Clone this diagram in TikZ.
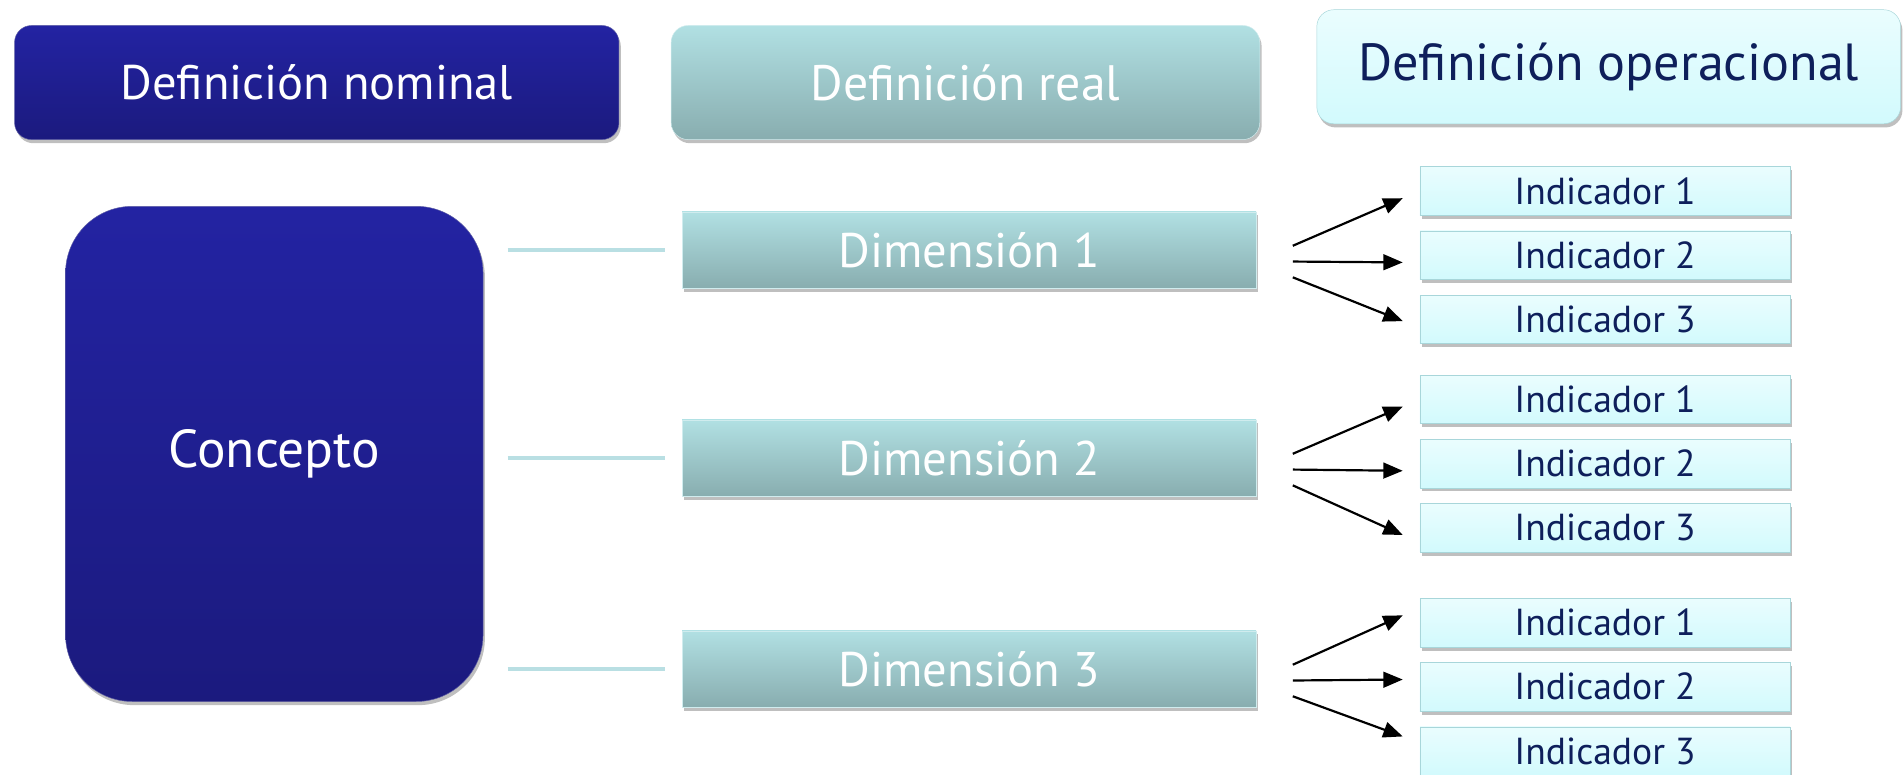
\documentclass[tikz,border=0pt]{standalone}
\usepackage{fontspec}
\setmainfont{PT Sans}
\usetikzlibrary{arrows.meta, positioning, shadows}
\definecolor{navytop}{HTML}{2323A2}
\definecolor{navybot}{HTML}{1B1A7E}
\definecolor{tealtop}{HTML}{B1E0E3}
\definecolor{tealbot}{HTML}{88ADAF}
\definecolor{icetop}{HTML}{EAFDFE}
\definecolor{icebot}{HTML}{D2FAFD}
\definecolor{iceline}{HTML}{A8D6DA}
\definecolor{inktext}{HTML}{0E1F5B}
\definecolor{linkline}{HTML}{B9DFE3}

\begin{document}
\begin{tikzpicture}[
    x=1pt, y=-1pt,
    node distance=12.5pt,
    every node/.style={inner sep=0pt, align=center},
    softshadow/.style={drop shadow={shadow xshift=1.5pt, shadow yshift=-3pt, opacity=0.25, fill=black}},
    navybox/.style={draw=navybot!70!white, top color=navytop, bottom color=navybot, text=white, softshadow},
    tealbox/.style={draw=tealtop!60!white, top color=tealtop, bottom color=tealbot, text=white, softshadow},
    icebox/.style={draw=iceline, top color=icetop, bottom color=icebot, text=inktext, softshadow},
    indbox/.style={icebox, minimum width=305pt, minimum height=40pt, font=\fontsize{31}{36}\selectfont},
    dimbox/.style={tealbox, minimum width=473pt, minimum height=63pt, font=\fontsize{40}{46}\selectfont},
    link/.style={draw=linkline, line width=3pt, shorten <=20pt, shorten >=14pt},
    arr/.style={draw=black, line width=1.8pt, -{Triangle[length=16pt, width=13pt]}}
    ]
    \useasboundingbox (0,0) rectangle (1568,638);

    % Headers
    \node (nominal) [navybox, rounded corners=14pt, minimum width=498pt, minimum height=94pt,
      font=\fontsize{40}{48}\selectfont] at (261,68) {Definición nominal};
    \node (real) [tealbox, rounded corners=14pt, minimum width=485pt, minimum height=94pt,
      font=\fontsize{41}{48}\selectfont] at (795.5,68) {Definición real};
    \node (operacional) [icebox, rounded corners=14pt, minimum width=481pt, minimum height=94pt,
      font=\fontsize{43}{50}\selectfont] at (1325.5,55) {Definición operacional};

    % Nodes
    \node (concepto) [navybox, rounded corners=55pt, minimum width=344pt, minimum height=408pt,
      font=\fontsize{44}{50}\selectfont] at (226,374) {Concepto};

    \node (dim1) [dimbox] at (798.5,206) {Dimensión 1};
    \node (dim2) [dimbox] at (798.5,377.4) {Dimensión 2};
    \node (dim3) [dimbox] at (798.5,551.2) {Dimensión 3};

    \node (ind11) [indbox] at (1322.5,157.3) {Indicador 1};
    \node (ind12) [indbox, below=of ind11] {Indicador 2};
    \node (ind13) [indbox, below=of ind12] {Indicador 3};

    \node (ind21) [indbox] at (1322.5,329) {Indicador 1};
    \node (ind22) [indbox, below=of ind21] {Indicador 2};
    \node (ind23) [indbox, below=of ind22] {Indicador 3};

    \node (ind31) [indbox] at (1322.5,513) {Indicador 1};
    \node (ind32) [indbox, below=of ind31] {Indicador 2};
    \node (ind33) [indbox, below=of ind32] {Indicador 3};

    % Edges
    \draw[link] (concepto.east |- dim1) -- (dim1);
    \draw[link] (concepto.east |- dim2) -- (dim2);
    \draw[link] (concepto.east |- dim3) -- (dim3);

    \draw[arr] ([xshift=30pt, yshift=3.5pt]dim1.east) -- ([xshift=-14pt, yshift=-6pt]ind11.west);
    \draw[arr] ([xshift=30pt, yshift=-9.5pt]dim1.east) -- ([xshift=-14pt, yshift=-6pt]ind12.west);
    \draw[arr] ([xshift=30pt, yshift=-22.5pt]dim1.east) -- ([xshift=-14pt, yshift=-1.5pt]ind13.west);

    \draw[arr] ([xshift=30pt, yshift=3.5pt]dim2.east) -- ([xshift=-14pt, yshift=-6pt]ind21.west);
    \draw[arr] ([xshift=30pt, yshift=-9.5pt]dim2.east) -- ([xshift=-14pt, yshift=-6pt]ind22.west);
    \draw[arr] ([xshift=30pt, yshift=-22.5pt]dim2.east) -- ([xshift=-14pt, yshift=-6pt]ind23.west);

    \draw[arr] ([xshift=30pt, yshift=3.5pt]dim3.east) -- ([xshift=-14pt, yshift=6pt]ind31.west);
    \draw[arr] ([xshift=30pt, yshift=-9.5pt]dim3.east) -- ([xshift=-14pt, yshift=6pt]ind32.west);
    \draw[arr] ([xshift=30pt, yshift=-22.5pt]dim3.east) -- ([xshift=-14pt, yshift=12pt]ind33.west);

  \end{tikzpicture}
\end{document}
